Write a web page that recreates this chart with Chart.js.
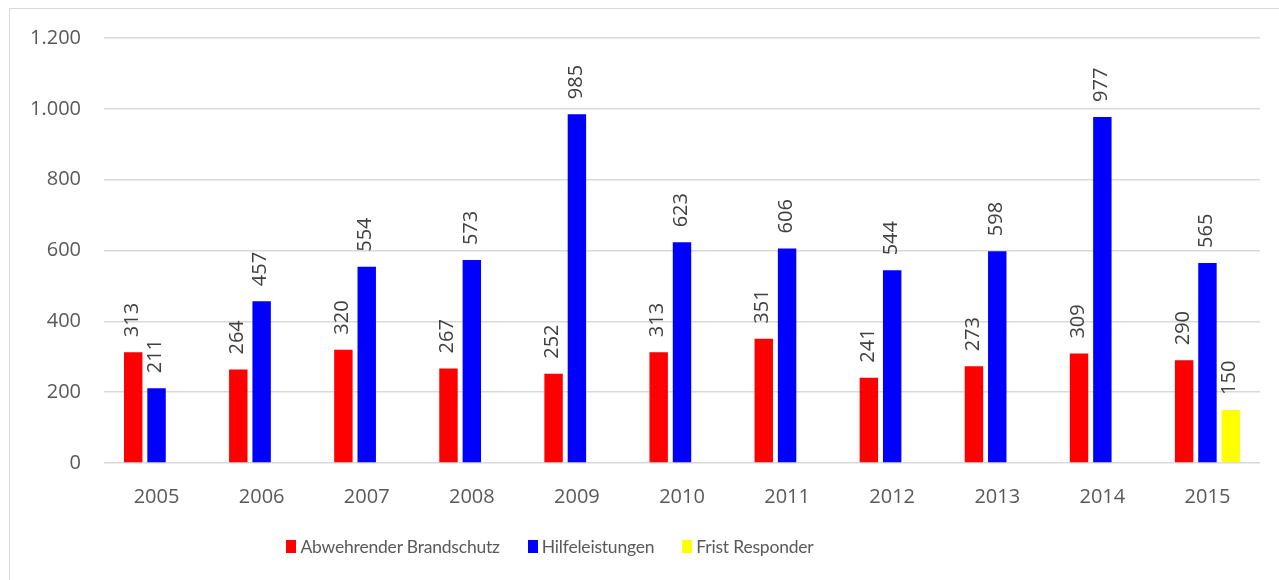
<!DOCTYPE html>
<html>
<head>
<meta charset="utf-8">
<script src="https://cdn.jsdelivr.net/npm/chart.js@4.4.1/dist/chart.umd.min.js"></script>
<style>
    html, body {margin: 0; padding: 0; background: #fff; overflow: hidden;}
    #wrap {position: relative; width: 1279px; height: 580px;}
    #frame {position: absolute; left: 9px; top: 8px; width: 1300px; height: 600px; border: 1px solid #d9d9d9; box-sizing: border-box;}
    #legend {position: absolute; left: 0; width: 1100px; top: 536px; display: flex; justify-content: center;
        font-family: "Lato", sans-serif; font-size: 17.5px; letter-spacing: -0.2px; color: #595959;}
    #legend .item {display: flex; align-items: center; margin: 0 14px;}
    #legend .box {width: 10px; height: 13px; margin-right: 4px;}
    canvas {position: absolute; left: 0; top: 0;}
</style>
</head>
<body>
<div id="wrap">
    <div id="frame"></div>
    <canvas id="chart" width="1279" height="580"></canvas>
    <div id="legend"></div>
</div>
<script>
const years = ["2005", "2006", "2007", "2008", "2009", "2010", "2011", "2012", "2013", "2014", "2015"];
const brandschutz = [313, 264, 320, 267, 252, 313, 351, 241, 273, 309, 290];
const hilfeleistungen = [211, 457, 554, 573, 985, 623, 606, 544, 598, 977, 565];
const firstResponder = [null, null, null, null, null, null, null, null, null, null, 150];
const seriesNames = ["Abwehrender Brandschutz", "Hilfeleistungen", "Frist Responder"];
const seriesColors = ["#ff0000", "#0000ff", "#ffff00"];
const yTicks = [0, 200, 400, 600, 800, 1000, 1200];

const fmt = new Intl.NumberFormat("de-DE");

let valueLabels = {
    id: "valueLabels",
    afterDatasetsDraw: (chart) => {
        const {ctx} = chart;
        ctx.save();
        ctx.font = "20px 'Open Sans'";
        ctx.fillStyle = "#404040";
        ctx.textAlign = "left";
        ctx.textBaseline = "middle";
        chart.data.datasets.forEach((ds, i) => {
            chart.getDatasetMeta(i).data.forEach((bar, j) => {
                const v = ds.data[j];
                if (v == null) return;
                ctx.save();
                ctx.translate(bar.x - 1, bar.y - 15);
                ctx.rotate(-Math.PI / 2);
                ctx.fillText(fmt.format(v), 0, 0);
                ctx.restore();
            });
        });
        ctx.restore();
    }
}

let datasets = [brandschutz, hilfeleistungen, firstResponder].map((arr, i) => ({
    label: seriesNames[i],
    data: arr,
    backgroundColor: seriesColors[i],
    categoryPercentage: 0.666,
    barPercentage: 0.79
}));

new Chart(document.getElementById("chart"), {
    type: "bar",
    data: {labels: years, datasets: datasets},
    plugins: [valueLabels],
    options: {
        responsive: false,
        animation: false,
        layout: {padding: {left: 0, top: 38, right: 19, bottom: 0}},
        plugins: {legend: {display: false}, tooltip: {enabled: false}},
        scales: {
            x: {
                grid: {display: false},
                border: {display: false},
                ticks: {color: "#595959", font: {family: "Open Sans", size: 20}, padding: 14},
                afterFit: (scale) => { scale.height = 117; }
            },
            y: {
                min: 0,
                max: 1200,
                afterBuildTicks: (scale) => { scale.ticks = yTicks.map(v => ({value: v})); },
                grid: {color: "#d9d9d9", lineWidth: 1.5, drawTicks: false},
                border: {display: false},
                ticks: {
                    color: "#595959",
                    font: {family: "Open Sans", size: 20},
                    padding: 23,
                    callback: (v) => fmt.format(v)
                },
                afterFit: (scale) => { scale.width = 104; }
            }
        }
    }
});

const legend = document.getElementById("legend");
seriesNames.forEach((name, i) => {
    const item = document.createElement("div");
    item.className = "item";
    item.innerHTML = `<span class="box" style="background:${seriesColors[i]}"></span><span>${name}</span>`;
    legend.appendChild(item);
});
</script>
</body>
</html>
